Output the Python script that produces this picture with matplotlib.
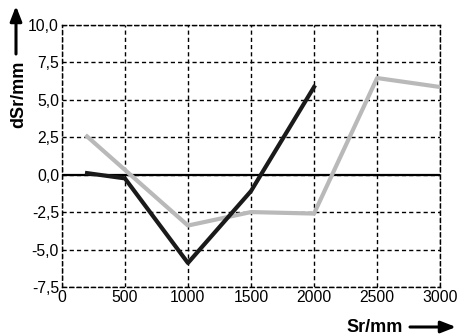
import numpy as np
import matplotlib.pyplot as plt
from matplotlib.patches import FancyArrowPatch

plt.rcParams['font.family'] = ['Liberation Sans', 'DejaVu Sans']

# data
sr_black = [200, 500, 1000, 1500, 2000]
dsr_black = [0.1, -0.25, -5.9, -1.1, 5.85]
sr_grey = [200, 1000, 1500, 2000, 2500, 3000]
dsr_grey = [2.55, -3.4, -2.5, -2.6, 6.45, 5.85]

xticks = [0, 500, 1000, 1500, 2000, 2500, 3000]
yticks = [-7.5, -5.0, -2.5, 0.0, 2.5, 5.0, 7.5, 10.0]

fig = plt.figure(figsize=(4.58, 3.36), dpi=100)
ax = fig.add_axes([0.135, 0.146, 0.826, 0.78])

dash = (0, (3, 2.2))
ax.set_xlim(0, 3000)
ax.set_ylim(-7.5, 10)
ax.set_xticks(xticks)
ax.set_yticks(yticks)
ax.set_xticklabels([str(t) for t in xticks])
ax.set_yticklabels([('%.1f' % t).replace('.', ',') for t in yticks])
ax.tick_params(length=0, labelsize=11.3, pad=2)
ax.grid(True, color='black', linestyle=dash, linewidth=1.0)
for s in ax.spines.values():
    s.set_linestyle(dash)
    s.set_linewidth(1.0)

ax.axhline(0, color='black', linewidth=1.6, zorder=2)
ax.plot(sr_grey, dsr_grey, color='#b9b9b9', linewidth=3.0, zorder=3)
ax.plot(sr_black, dsr_black, color='#1a1a1a', linewidth=3.0, zorder=4)

# axis labels with arrows
fig.text(19 / 458, 1 - 94 / 336, 'dSr/mm', rotation=90, fontsize=13,
         fontweight='bold', ha='center', va='center')
fig.add_artist(FancyArrowPatch(
    (16 / 458, 1 - 54 / 336), (16 / 458, 1 - 6 / 336), transform=fig.transFigure,
    arrowstyle='-|>,head_length=9,head_width=3.5', color='black', linewidth=2.2,
    shrinkA=0, shrinkB=0))
fig.text(375 / 458, 1 - 328 / 336, 'Sr/mm', fontsize=13, fontweight='bold',
         ha='center', va='center')
fig.add_artist(FancyArrowPatch(
    (410 / 458, 1 - 327 / 336), (456 / 458, 1 - 327 / 336), transform=fig.transFigure,
    arrowstyle='-|>,head_length=9,head_width=3.5', color='black', linewidth=2.2,
    shrinkA=0, shrinkB=0))

fig.savefig('out.png', dpi=100)
